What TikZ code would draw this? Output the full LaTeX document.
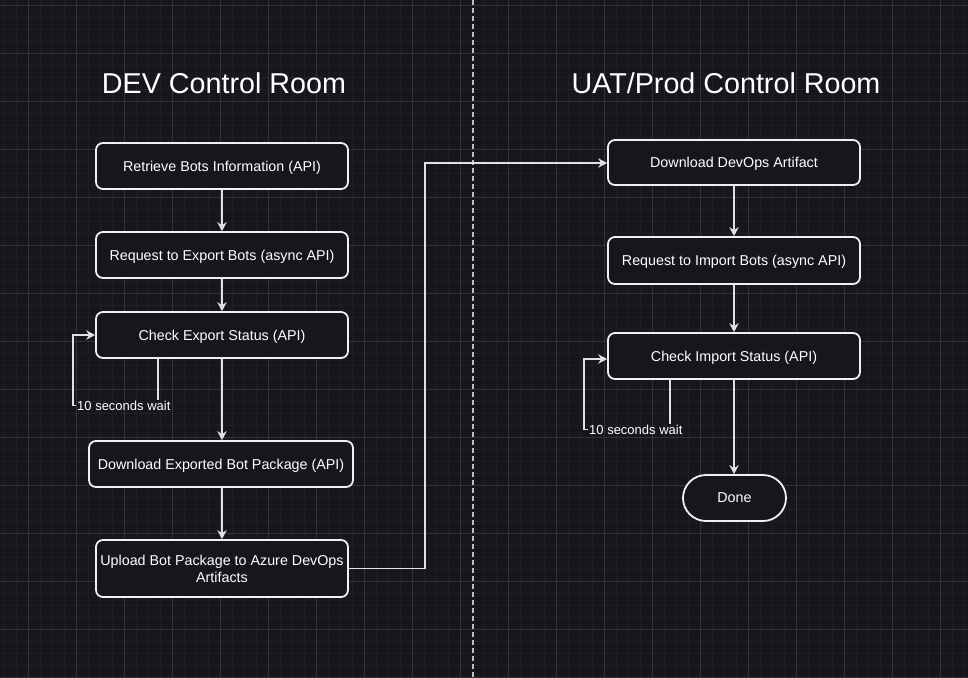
\documentclass[tikz,border=0pt]{standalone}
\usepackage{fontspec}
\setmainfont{Liberation Sans}
\usetikzlibrary{arrows.meta,shapes.misc}
\definecolor{bg}{RGB}{24,21,29}
\definecolor{minorgrid}{RGB}{32,29,37}
\definecolor{majorgrid}{RGB}{52,50,57}
\definecolor{edge}{RGB}{225,225,225}
\definecolor{boxline}{RGB}{240,240,240}
\definecolor{divider}{RGB}{190,190,190}
\tikzset{
  stepbox/.style={draw=boxline, line width=1.8pt, fill=bg, rounded corners=7pt, text=white, font=\fontsize{14.3}{17}\selectfont, align=center, inner sep=0pt},
  oneline/.style={text depth=0pt},
  donebox/.style={draw=boxline, line width=1.8pt, fill=bg, rounded rectangle, text=white, font=\fontsize{14.3}{17}\selectfont, minimum width=103pt, minimum height=46pt, inner sep=0pt, text depth=0pt},
  titletext/.style={text=white, font=\fontsize{28.7}{34}\selectfont},
  waitlabel/.style={text=white, font=\fontsize{13}{15}\selectfont, inner sep=1pt},
  conn/.style={draw=edge, line width=1.2pt, -{Stealth[length=9pt,width=9.5pt,inset=3pt]}},
  plainconn/.style={draw=edge, line width=1.2pt}
}
\begin{document}
\begin{tikzpicture}[x=1pt,y=-1pt]
\useasboundingbox (0,0) rectangle (968,677);
\fill[bg] (0,0) rectangle (968,677);
% grid
\foreach \i in {0,...,84} {
  \draw[minorgrid, line width=0.8pt] ({-20+12*\i},0) -- ({-20+12*\i},677);
}
\foreach \i in {0,...,58} {
  \draw[minorgrid, line width=0.8pt] (0,{-7+12*\i}) -- (968,{-7+12*\i});
}
\foreach \i in {0,...,21} {
  \draw[majorgrid, line width=0.9pt] ({-20+48*\i},0) -- ({-20+48*\i},677);
}
\foreach \i in {0,...,14} {
  \draw[majorgrid, line width=0.9pt] (0,{5+48*\i}) -- (968,{5+48*\i});
}
% divider
\coordinate (divtop) at (473,0);
\coordinate (divbot) at (473,677);
\draw[color=divider, line width=1.8pt, dash pattern=on 5pt off 3pt] (divtop) -- (divbot);
% titles
\node[titletext] (t1) at (224,83) {DEV Control Room};
\node[titletext] (t2) at (726,83) {UAT/Prod Control Room};
% left boxes
\node[stepbox, oneline, minimum width=252pt, minimum height=46pt] (b1) at (222,166) {Retrieve Bots Information (API)};
\node[stepbox, oneline, minimum width=252pt, minimum height=46pt] (b2) at (222,255) {Request to Export Bots (async API)};
\node[stepbox, oneline, minimum width=252pt, minimum height=46pt] (b3) at (222,335) {Check Export Status (API)};
\node[stepbox, oneline, minimum width=264pt, minimum height=46pt] (b4) at (221,464) {Download Exported Bot Package (API)};
\node[stepbox, minimum width=252pt, minimum height=57pt] (b5) at (222,568.5) {Upload Bot Package to Azure DevOps\\Artifacts};
% right boxes
\node[stepbox, oneline, minimum width=252pt, minimum height=45pt] (c1) at (734,162.5) {Download DevOps Artifact};
\node[stepbox, oneline, minimum width=252pt, minimum height=47pt] (c2) at (734,260.5) {Request to Import Bots (async API)};
\node[stepbox, oneline, minimum width=252pt, minimum height=46pt] (c3) at (734,356) {Check Import Status (API)};
\node[donebox] (d) at (734.5,498) {Done};
% labels
\node[waitlabel, anchor=west] (w1) at (76,405.5) {10 seconds wait};
\node[waitlabel, anchor=west] (w2) at (588,429.5) {10 seconds wait};
% connectors left
\draw[conn] (b1.south) -- (b2.north);
\draw[conn] (b2.south) -- (b3.north);
\draw[conn] (b3.south) -- (b3.south |- b4.north);
\draw[conn] (b4.south -| b3.south) -- (b5.north);
\draw[plainconn] (b3.south -| 158,0) -- (w1.north -| 158,0);
\draw[conn] (w1.west) -| (73,335) -- (b3.west);
% cross connector
\draw[conn] (b5.east) -| (425,163) -- (c1.west |- 0,163);
% connectors right
\draw[conn] (c1.south) -- (c2.north);
\draw[conn] (c2.south) -- (c3.north);
\draw[conn] (c3.south) -- (c3.south |- d.north);
\draw[plainconn] (c3.south -| 670,0) -- (w2.north -| 670,0);
\draw[conn] (w2.west) -| (584,359) -- (c3.west |- 0,359);
\end{tikzpicture}
\end{document}
